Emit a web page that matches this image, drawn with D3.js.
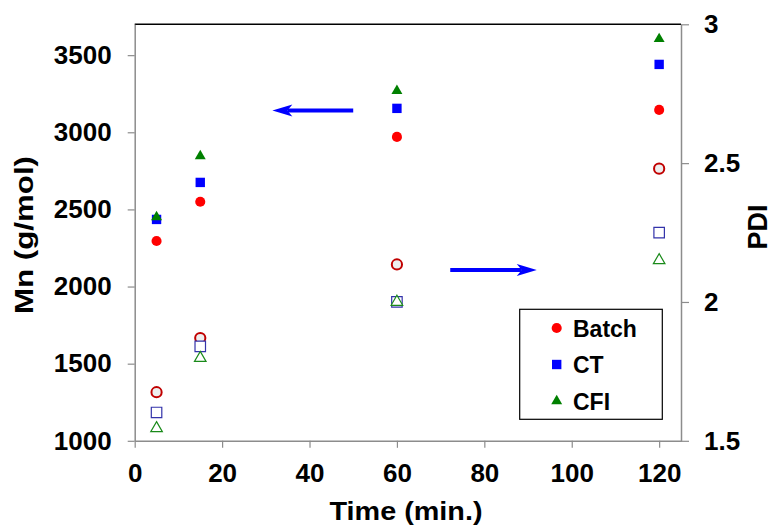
<!DOCTYPE html>
<html>
<head>
<meta charset="utf-8">
<script src="https://cdn.jsdelivr.net/npm/d3@7"></script>
<style>
  html, body { margin: 0; padding: 0; background: #fff; }
  svg text { font-family: "Liberation Sans", Arial, sans-serif; font-weight: bold; fill: #000; }
</style>
</head>
<body>
<svg id="chart" width="773" height="526"></svg>
<script>
// ---- data ----
const time = [5, 15, 60, 120];
const mnBatch = [2295, 2550, 2970, 3145];
const mnCT    = [2435, 2675, 3155, 3440];
const mnCFI   = [2450, 2845, 3268, 3605];
const pdiBatch = [1.675, 1.870, 2.135, 2.480];
const pdiCT    = [1.602, 1.840, 2.000, 2.250];
const pdiCFI   = [1.545, 1.798, 2.000, 2.150];
const xTicks = [0, 20, 40, 60, 80, 100, 120];
const yLeftTicks = [1000, 1500, 2000, 2500, 3000, 3500];
const yRightTicks = [1.5, 2, 2.5, 3];
const seriesNames = ["Batch", "CT", "CFI"];
// arrows in data units: [x from, x to, y]
const arrowMn = [50, 31.5, 3142];
const arrowPdi = [72.2, 92, 2.115];

// ---- layout ----
const L = 134.7, R = 681, T = 24.3, B = 440.8;
const svg = d3.select("#chart");
const x = d3.scaleLinear().domain([0, 125]).range([L, R]);
const yL = d3.scaleLinear().domain([1000, 3700]).range([B, T]);
const yR = d3.scaleLinear().domain([1.5, 3]).range([B, T]);

const axisColor = "#8c8c8c";
function styleAxis(g) {
  g.selectAll("path.domain").attr("stroke", axisColor).attr("stroke-width", 1.5);
  g.selectAll(".tick line").attr("stroke", axisColor).attr("stroke-width", 1.2);
  g.selectAll(".tick text").attr("font-size", 26).attr("font-family", "Liberation Sans, Arial, sans-serif")
    .attr("font-weight", "bold").attr("fill", "#000");
}

// top border
svg.append("line").attr("x1", L).attr("x2", R).attr("y1", T).attr("y2", T)
  .attr("stroke", "#000").attr("stroke-width", 1.5);

svg.append("g").attr("transform", `translate(0,${B})`)
  .call(d3.axisBottom(x).tickValues(xTicks).tickSize(7).tickSizeOuter(0).tickPadding(16).tickFormat(d3.format("d")))
  .call(styleAxis);
svg.append("g").attr("transform", `translate(${L},0)`)
  .call(d3.axisLeft(yL).tickValues(yLeftTicks).tickSize(7).tickSizeOuter(0).tickPadding(16).tickFormat(d3.format("d")))
  .call(styleAxis);
svg.append("g").attr("transform", `translate(${R},0)`)
  .call(d3.axisRight(yR).tickValues(yRightTicks).tickSize(8).tickSizeOuter(0).tickPadding(15).tickFormat(d => d))
  .call(styleAxis);

// axis titles
svg.append("text").attr("x", 406).attr("y", 520).attr("text-anchor", "middle")
  .attr("font-size", 26).attr("textLength", 153).attr("lengthAdjust", "spacingAndGlyphs").text("Time (min.)");
svg.append("text").attr("transform", "translate(33,235) rotate(-90)").attr("text-anchor", "middle")
  .attr("font-size", 26).attr("textLength", 158).attr("lengthAdjust", "spacingAndGlyphs").text("Mn (g/mol)");
svg.append("text").attr("transform", "translate(767,227) rotate(-90)").attr("text-anchor", "middle")
  .attr("font-size", 27).text("PDI");

// ---- markers ----
const filled = [
  { vals: mnBatch, type: d3.symbolCircle, size: 80, fill: "#ff0000" },
  { vals: mnCT, type: d3.symbolSquare, size: 88, fill: "#0000ff" },
  { vals: mnCFI, type: d3.symbolTriangle, size: 52, fill: "#008000" }
];
const open = [
  { vals: pdiBatch, type: d3.symbolCircle, size: 82, fill: "#eeeeee", stroke: "#c00000", sw: 2 },
  { vals: pdiCT, type: d3.symbolSquare, size: 110, fill: "#ffffff", stroke: "#3333aa", sw: 1.2 },
  { vals: pdiCFI, type: d3.symbolTriangle, size: 58, fill: "#ffffff", stroke: "#1a8a1a", sw: 1.2 }
];
open.forEach(s => {
  svg.append("g").selectAll("path").data(time).join("path")
    .attr("d", d3.symbol().type(s.type).size(s.size))
    .attr("transform", (t, i) => `translate(${x(t)},${yR(s.vals[i])})`)
    .attr("fill", s.fill).attr("stroke", s.stroke).attr("stroke-width", s.sw);
});
filled.forEach(s => {
  svg.append("g").selectAll("path").data(time).join("path")
    .attr("d", d3.symbol().type(s.type).size(s.size))
    .attr("transform", (t, i) => `translate(${x(t)},${yL(s.vals[i])})`)
    .attr("fill", s.fill);
});

// ---- arrows ----
function arrow(x1, x2, yPix) {
  const dir = Math.sign(x2 - x1);
  const headLen = 20, notch = 15, half = 6;
  svg.append("line").attr("x1", x1).attr("x2", x2 - dir * notch).attr("y1", yPix).attr("y2", yPix)
    .attr("stroke", "#0000ff").attr("stroke-width", 4);
  svg.append("path")
    .attr("d", `M${x2},${yPix} L${x2 - dir * headLen},${yPix - half} L${x2 - dir * notch},${yPix} L${x2 - dir * headLen},${yPix + half} Z`)
    .attr("fill", "#0000ff");
}
arrow(x(arrowMn[0]), x(arrowMn[1]), yL(arrowMn[2]));
arrow(x(arrowPdi[0]), x(arrowPdi[1]), yR(arrowPdi[2]));

// ---- legend ----
const lg = svg.append("g");
lg.append("rect").attr("x", 519.7).attr("y", 309.3).attr("width", 142.6).attr("height", 110)
  .attr("fill", "#fff").attr("stroke", "#000").attr("stroke-width", 1.2);
const legY = [328, 364.5, 401];
filled.forEach((s, i) => {
  lg.append("path").attr("d", d3.symbol().type(s.type).size(s.size))
    .attr("transform", `translate(556.7,${legY[i]})`).attr("fill", s.fill);
  lg.append("text").attr("x", 573).attr("y", legY[i] + 8.5).attr("font-size", 23).text(seriesNames[i]);
});
</script>
</body>
</html>
